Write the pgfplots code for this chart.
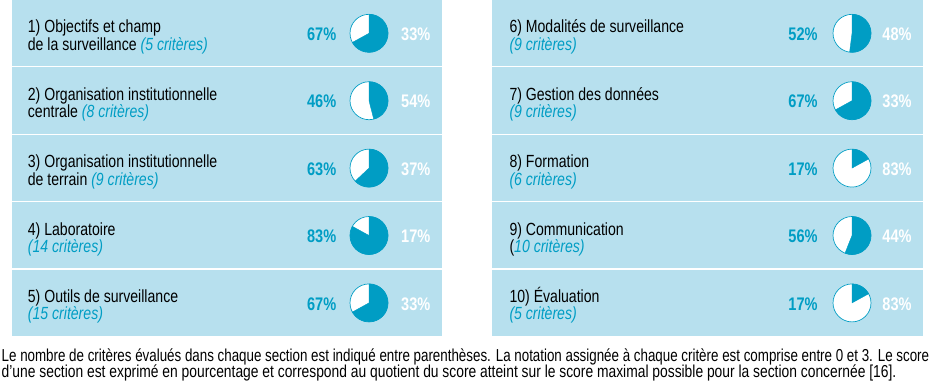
\documentclass[border=0pt]{standalone}
\usepackage{fontspec}
\setmainfont{Liberation Sans}[FakeStretch=0.8]
\usepackage{pgfplots}
\usepackage{pgfplotstable}
\pgfplotsset{compat=1.18}
\definecolor{bgblue}{HTML}{B7E0EE}
\definecolor{myteal}{HTML}{009DC4}

\pgfplotstableread{
x y pct
369 33.3 67
369 100.7 46
369 168.1 63
369 235.5 83
369 302.9 67
}\leftpies
\pgfplotstableread{
x y pct
852 33.3 52
852 100.7 67
852 168.1 17
852 235.5 56
852 302.9 17
}\rightpies

\newcommand\lab{\fontsize{17.6}{17.6}\selectfont}
\newcommand\foot{\fontsize{17.3}{17.3}\selectfont}
\newcommand\pctfont{\fontsize{18.2}{18.2}\selectfont\bfseries}

\pgfplotsset{
  pie/.style 2 args={
    only marks, scatter, point meta=explicit,
    mark=text, text mark={},
    visualization depends on={\thisrow{pct}\as\pct},
    scatter/@pre marker code/.code={
      \pgfmathsetmacro\ang{3.6*\pct}
      \pgfmathtruncatemacro\pcti{\pct}
      \pgfmathtruncatemacro\rest{100-\pct}
      \fill[white] (0,0) circle[radius=19pt];
      \fill[myteal] (0,0) -- (0,19pt) arc[start angle=90, delta angle=-\ang, radius=19pt] -- cycle;
      \draw[myteal, line width=0.7pt] (0,0) circle[radius=19pt];
      \node[font=\pctfont, text=myteal, inner sep=0pt] at (#1,-1pt) {\pcti\%};
      \node[font=\pctfont, text=white, inner sep=0pt] at (#2,-1pt) {\rest\%};
    },
    scatter/@post marker code/.code={}
  }
}

\begin{document}
\begin{tikzpicture}
\begin{axis}[x=1pt, y=1pt, y dir=reverse, xmin=0, xmax=934, ymin=0, ymax=380,
  hide axis, clip=false]
\path (axis cs:0,0) rectangle (axis cs:934,380);
% panels
\fill[bgblue] (axis cs:11.7,0) rectangle (axis cs:441.7,335.8);
\fill[bgblue] (axis cs:492.3,0) rectangle (axis cs:923,335.8);
\foreach \yy in {66.8,134.2,201.6,269.0}{
  \edef\tmp{\noexpand\draw[white, line width=1.3pt] (axis cs:11.7,\yy) -- (axis cs:441.7,\yy);
  \noexpand\draw[white, line width=1.3pt] (axis cs:492.3,\yy) -- (axis cs:923,\yy);}
  \tmp
}
% pies
\addplot[pie={-47.3pt}{46.8pt}] table[x=x, y=y, meta=pct] {\leftpies};
\addplot[pie={-49pt}{45pt}] table[x=x, y=y, meta=pct] {\rightpies};
% left labels
\begin{scope}[every node/.style={anchor=base west, inner sep=0pt, font=\lab}]
\node at (axis cs:27.7,32.8) {1) Objectifs et champ};
\node at (axis cs:27.7,50.3) {de la surveillance {\color{myteal}\itshape (5 critères)}};
\node at (axis cs:27.7,100.2) {2) Organisation institutionnelle};
\node at (axis cs:27.7,117.7) {centrale {\color{myteal}\itshape (8 critères)}};
\node at (axis cs:27.7,167.6) {3) Organisation institutionnelle};
\node at (axis cs:27.7,185.1) {de terrain {\color{myteal}\itshape (9 critères)}};
\node at (axis cs:27.7,235.0) {4) Laboratoire};
\node at (axis cs:27.7,252.5) {{\color{myteal}\itshape (14 critères)}};
\node at (axis cs:27.7,302.4) {5) Outils de surveillance};
\node at (axis cs:27.7,319.9) {{\color{myteal}\itshape (15 critères)}};
% right labels
\node at (axis cs:509.3,32.8) {6) Modalités de surveillance};
\node at (axis cs:509.3,50.3) {{\color{myteal}\itshape (9 critères)}};
\node at (axis cs:509.3,100.2) {7) Gestion des données};
\node at (axis cs:509.3,117.7) {{\color{myteal}\itshape (9 critères)}};
\node at (axis cs:509.3,167.6) {8) Formation};
\node at (axis cs:509.3,185.1) {{\color{myteal}\itshape (6 critères)}};
\node at (axis cs:509.3,235.0) {9) Communication};
\node at (axis cs:509.3,252.5) {({\color{myteal}\itshape 10 critères)}};
\node at (axis cs:509.3,302.4) {10) Évaluation};
\node at (axis cs:509.3,319.9) {{\color{myteal}\itshape (5 critères)}};
% footer
\node[font=\foot] at (axis cs:1.5,361) {\resizebox{927.5pt}{\height}{Le nombre de critères évalués dans chaque section est indiqué entre parenthèses. La notation assignée à chaque critère est comprise entre 0 et 3. Le score}};
\node[font=\foot] at (axis cs:1.5,377.7) {d’une section est exprimé en pourcentage et correspond au quotient du score atteint sur le score maximal possible pour la section concernée [16].};
\end{scope}
\end{axis}
\end{tikzpicture}
\end{document}
